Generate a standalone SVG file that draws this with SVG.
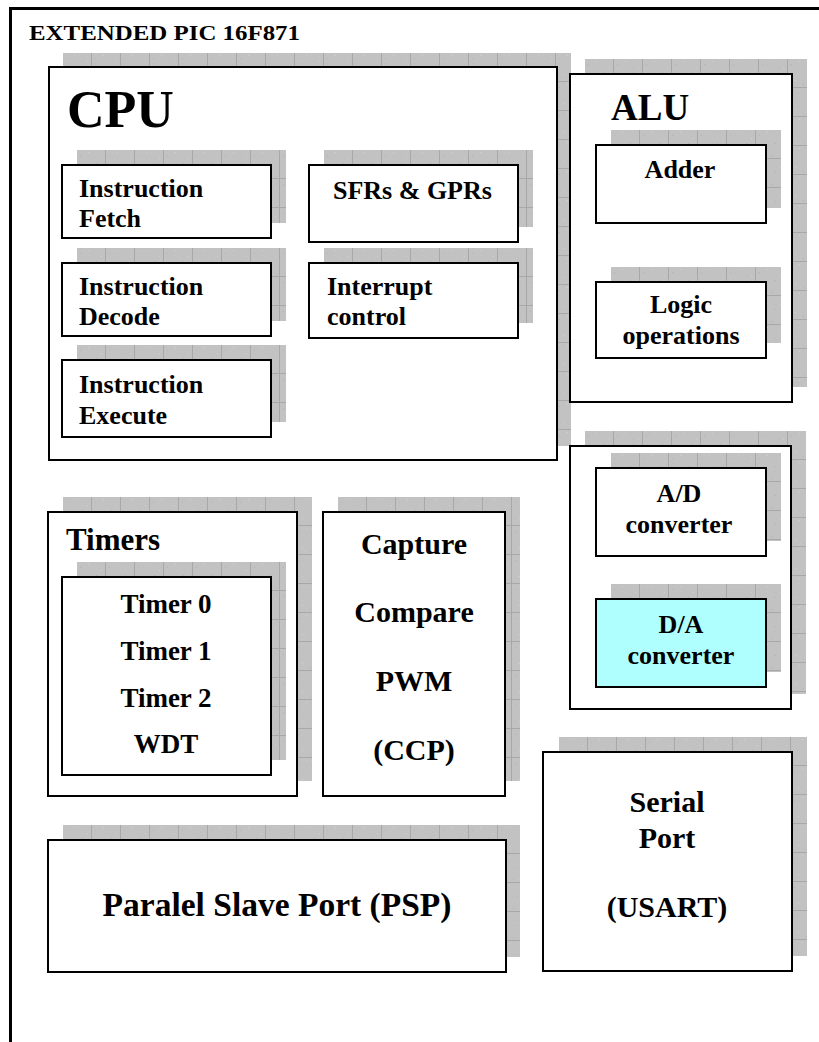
<svg xmlns="http://www.w3.org/2000/svg" width="819" height="1042" viewBox="0 0 819 1042" font-family="'Liberation Serif', 'Times New Roman', serif" font-weight="bold">
<defs>
<pattern id="grid" patternUnits="userSpaceOnUse" x="0" y="0" width="29" height="29">
<rect width="29" height="29" fill="#c2c2c2"/>
<rect x="3" y="5" width="1" height="1" fill="#b2b2b2"/>
<rect x="11" y="2" width="1" height="1" fill="#d2d2d2"/>
<rect x="19" y="13" width="1" height="1" fill="#b2b2b2"/>
<rect x="7" y="21" width="1" height="1" fill="#d2d2d2"/>
<rect x="24" y="8" width="1" height="1" fill="#d0d0d0"/>
<rect x="15" y="25" width="1" height="1" fill="#b4b4b4"/>
<path d="M28.5,0V29M0,28.5H29" stroke="#a8a8a8" stroke-width="1"/>
</pattern>
</defs>
<style>
.shadowfill{fill:url(#grid)}
.boxwhite{fill:#ffffff;stroke:#000000;stroke-width:2}
.boxcyan{fill:#b0ffff;stroke:#000000;stroke-width:2}
text{font-family:"Liberation Serif","Times New Roman",serif;font-weight:bold;fill:#000000}
</style>
<rect width="819" height="1042" fill="#ffffff"/>
<path d="M10.5,1042V8.5H819" fill="none" stroke="#000000" stroke-width="3"/>
<text x="29" y="40" font-size="21" textLength="271" lengthAdjust="spacingAndGlyphs">EXTENDED PIC 16F871</text>

<g id="cpu">
<g transform="translate(63,53)"><rect class="shadowfill" width="508" height="393"/></g>
<rect class="boxwhite" x="49" y="67" width="508" height="393"/>
<text x="67" y="127" font-size="52">CPU</text>
</g>
<g id="fetch">
<g transform="translate(77,150)"><rect class="shadowfill" width="209" height="73"/></g>
<rect class="boxwhite" x="62" y="165" width="209" height="73"/>
<text font-size="26" x="79" y="197">Instruction</text>
<text font-size="26" x="79" y="227">Fetch</text>
</g>
<g id="decode">
<g transform="translate(77,248)"><rect class="shadowfill" width="209" height="73"/></g>
<rect class="boxwhite" x="62" y="263" width="209" height="73"/>
<text font-size="26" x="79" y="295">Instruction</text>
<text font-size="26" x="79" y="325">Decode</text>
</g>
<g id="execute">
<g transform="translate(77,345)"><rect class="shadowfill" width="209" height="77"/></g>
<rect class="boxwhite" x="62" y="360" width="209" height="77"/>
<text font-size="26" x="79" y="393">Instruction</text>
<text font-size="26" x="79" y="424">Execute</text>
</g>
<g id="sfr">
<g transform="translate(324,150)"><rect class="shadowfill" width="209" height="77"/></g>
<rect class="boxwhite" x="309" y="165" width="209" height="77"/>
<text font-size="26" x="333" y="199">SFRs &amp; GPRs</text>
</g>
<g id="interrupt">
<g transform="translate(324,248)"><rect class="shadowfill" width="209" height="75"/></g>
<rect class="boxwhite" x="309" y="263" width="209" height="75"/>
<text font-size="26" x="327" y="295">Interrupt</text>
<text font-size="26" x="327" y="325">control</text>
</g>

<g id="alu">
<g transform="translate(585,59)"><rect class="shadowfill" width="222" height="328"/></g>
<rect class="boxwhite" x="570" y="74" width="222" height="328"/>
<text x="611" y="120" font-size="37">ALU</text>
</g>
<g id="adder">
<g transform="translate(611,130)"><rect class="shadowfill" width="170" height="78"/></g>
<rect class="boxwhite" x="596" y="145" width="170" height="78"/>
<text font-size="26" text-anchor="middle" x="680" y="178">Adder</text>
</g>
<g id="logic">
<g transform="translate(611,267)"><rect class="shadowfill" width="170" height="76"/></g>
<rect class="boxwhite" x="596" y="282" width="170" height="76"/>
<text font-size="26" text-anchor="middle" x="681" y="313">Logic</text>
<text font-size="26" text-anchor="middle" x="681" y="344">operations</text>
</g>

<g id="converters">
<g transform="translate(585,431)"><rect class="shadowfill" width="221" height="263"/></g>
<rect class="boxwhite" x="570" y="446" width="221" height="263"/>
</g>
<g id="ad">
<g transform="translate(611,453)"><rect class="shadowfill" width="170" height="88"/></g>
<rect class="boxwhite" x="596" y="468" width="170" height="88"/>
<text font-size="26" text-anchor="middle" x="679" y="502">A/D</text>
<text font-size="26" text-anchor="middle" x="679" y="533">converter</text>
</g>
<g id="da">
<g transform="translate(611,584)"><rect class="shadowfill" width="170" height="88"/></g>
<rect class="boxcyan" x="596" y="599" width="170" height="88"/>
<text font-size="26" text-anchor="middle" x="681" y="633">D/A</text>
<text font-size="26" text-anchor="middle" x="681" y="664">converter</text>
</g>

<g id="timers">
<g transform="translate(63,497)"><rect class="shadowfill" width="249" height="284"/></g>
<rect class="boxwhite" x="48" y="512" width="249" height="284"/>
<text x="66" y="550" font-size="31">Timers</text>
</g>
<g id="timerlist">
<g transform="translate(77,562)"><rect class="shadowfill" width="209" height="198"/></g>
<rect class="boxwhite" x="62" y="577" width="209" height="198"/>
<text text-anchor="middle" x="166" y="613" font-size="27">Timer 0</text>
<text text-anchor="middle" x="166" y="660" font-size="27">Timer 1</text>
<text text-anchor="middle" x="166" y="707" font-size="27">Timer 2</text>
<text text-anchor="middle" x="166" y="753" font-size="27">WDT</text>
</g>

<g id="ccp">
<g transform="translate(338,497)"><rect class="shadowfill" width="182" height="284"/></g>
<rect class="boxwhite" x="323" y="512" width="182" height="284"/>
<text text-anchor="middle" x="414" y="554" font-size="30">Capture</text>
<text text-anchor="middle" x="414" y="622" font-size="30">Compare</text>
<text text-anchor="middle" x="414" y="691" font-size="30">PWM</text>
<text text-anchor="middle" x="414" y="760" font-size="30">(CCP)</text>
</g>

<g id="serial">
<g transform="translate(559,737)"><rect class="shadowfill" width="248" height="219"/></g>
<rect class="boxwhite" x="543" y="752" width="249" height="219"/>
<text text-anchor="middle" x="667" y="812" font-size="30">Serial</text>
<text text-anchor="middle" x="667" y="848" font-size="30">Port</text>
<text text-anchor="middle" x="667" y="917" font-size="30">(USART)</text>
</g>

<g id="psp">
<g transform="translate(63,825)"><rect class="shadowfill" width="457" height="132"/></g>
<rect class="boxwhite" x="48" y="840" width="458" height="132"/>
<text text-anchor="middle" x="277" y="916" font-size="33.5">Paralel Slave Port (PSP)</text>
</g>

<g id="connectors"></g>
</svg>
